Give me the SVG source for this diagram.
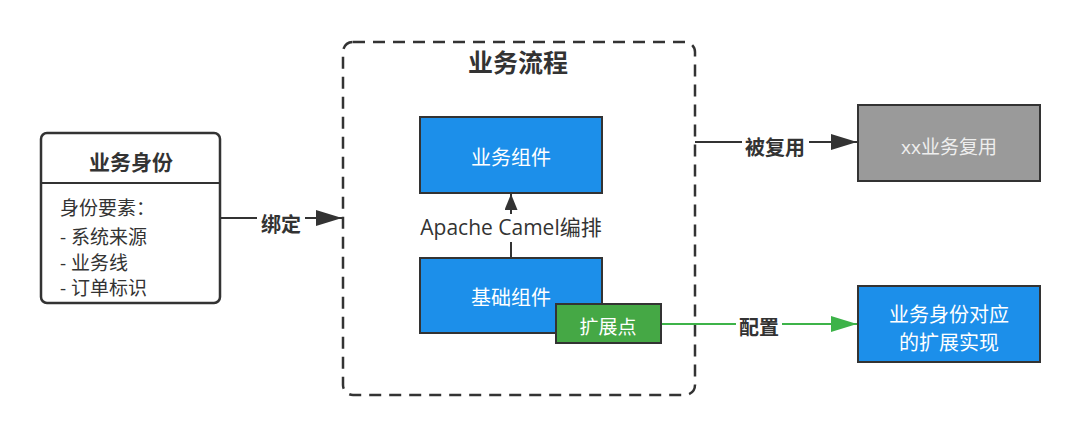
<svg xmlns="http://www.w3.org/2000/svg" width="1080" height="438" viewBox="0 0 1080 438">
<defs>
<style>
text{font-family:"Open Sans","Noto Sans CJK SC",sans-serif;}
.t{font-size:19px;fill:#333;}
.b{font-weight:bold;}
.w{fill:#fff;font-size:20px;text-anchor:middle;}
.blue{fill:#1c8fea;stroke:#333;stroke-width:2;}
.lbl{font-size:20px;font-weight:bold;fill:#333;text-anchor:middle;}
.line{stroke:#333;stroke-width:2;fill:none;}
.gline{stroke:#3db349;stroke-width:2;fill:none;}
</style>
<marker id="ah" viewBox="0 0 10 10" refX="10" refY="5" markerWidth="26" markerHeight="16" markerUnits="userSpaceOnUse" orient="auto" preserveAspectRatio="none"><path d="M0,0 L10,5 L0,10 Z" fill="#333"/></marker>
<marker id="ahs" viewBox="0 0 10 10" refX="10" refY="5" markerWidth="16" markerHeight="13" markerUnits="userSpaceOnUse" orient="auto" preserveAspectRatio="none"><path d="M0,0 L10,5 L0,10 Z" fill="#333"/></marker>
<marker id="ag" viewBox="0 0 10 10" refX="10" refY="5" markerWidth="26" markerHeight="16" markerUnits="userSpaceOnUse" orient="auto" preserveAspectRatio="none"><path d="M0,0 L10,5 L0,10 Z" fill="#3db349"/></marker>
</defs>
<rect width="1080" height="438" fill="#fff"/>

<g id="container">
<rect x="343" y="42" width="352" height="353" rx="10" fill="none" stroke="#333" stroke-width="2.5" stroke-dasharray="12 8"/>
<text x="518" y="72" text-anchor="middle" class="b" style="font-size:25px;fill:#333">业务流程</text>
</g>

<g id="connectors">
<line class="line" x1="220" y1="218" x2="342" y2="218" marker-end="url(#ah)"/>
<rect x="257" y="208" width="48" height="26" fill="#fff"/>
<text class="lbl" x="281" y="232">绑定</text>

<line class="line" x1="511" y1="258" x2="511" y2="194" marker-end="url(#ahs)"/>
<rect x="410" y="214" width="202" height="28" fill="#fff"/>
<text x="511" y="235" text-anchor="middle" style="font-size:21px;fill:#333">Apache Camel编排</text>

<line class="line" x1="695" y1="142" x2="857" y2="142" marker-end="url(#ah)"/>
<rect x="742" y="132" width="67" height="26" fill="#fff"/>
<text class="lbl" x="775" y="155">被复用</text>

<line class="gline" x1="661" y1="324" x2="857" y2="324" marker-end="url(#ag)"/>
<rect x="736" y="314" width="46" height="26" fill="#fff"/>
<text class="lbl" x="759" y="335">配置</text>
</g>

<g id="identity">
<rect x="41" y="133" width="179" height="170" rx="6" fill="#fff" stroke="#333" stroke-width="2.5"/>
<line x1="41" y1="183" x2="220" y2="183" stroke="#333" stroke-width="2"/>
<text x="131" y="170" text-anchor="middle" class="b" style="font-size:21px;fill:#333">业务身份</text>
<text class="t" x="60" y="215">身份要素：</text>
<text class="t" x="60" y="244">- 系统来源</text>
<text class="t" x="60" y="270">- 业务线</text>
<text class="t" x="60" y="295">- 订单标识</text>
</g>

<g id="biz-component">
<rect class="blue" x="420" y="117" width="182" height="76"/>
<text class="w" x="511" y="165">业务组件</text>
</g>

<g id="base-component">
<rect class="blue" x="420" y="258" width="182" height="75"/>
<text class="w" x="511" y="305">基础组件</text>
</g>

<g id="ext-point">
<rect x="556" y="304" width="105" height="39" fill="#45a845" stroke="#333" stroke-width="2"/>
<text class="w" x="608" y="334" style="font-size:19px">扩展点</text>
</g>

<g id="reuse">
<rect x="858" y="105" width="182" height="76" fill="#9a9a9a" stroke="#333" stroke-width="2"/>
<text x="949" y="154" text-anchor="middle" style="font-size:19px;fill:#eee">xx业务复用</text>
</g>

<g id="ext-impl">
<rect class="blue" x="858" y="286" width="182" height="76"/>
<text class="w" x="949" y="322">业务身份对应</text>
<text class="w" x="949" y="350">的扩展实现</text>
</g>
</svg>
